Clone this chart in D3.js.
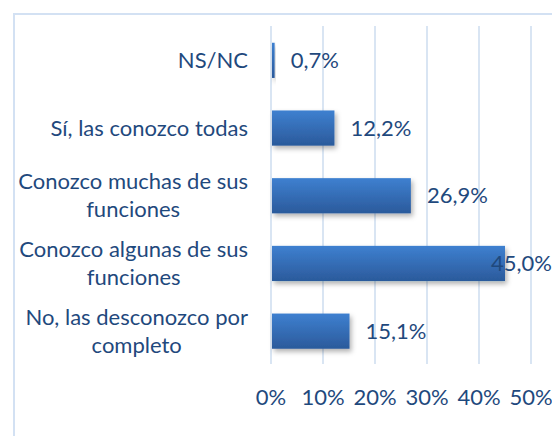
<html>
<head>
<meta charset="utf-8">
<script src="https://d3js.org/d3.v7.min.js"></script>
<style>
body { margin: 0; background: #fff; }
text { font-family: Lato, "Open Sans", sans-serif; fill: #1F497D; }
</style>
</head>
<body>
<script>
// categories, top to bottom (each entry = lines of the wrapped label)
var categories = [
	["NS/NC"],
	["Sí, las conozco todas"],
	["Conozco muchas de sus", "funciones"],
	["Conozco algunas de sus", "funciones"],
	["No, las desconozco por", "completo"]
];
var values = [0.7, 12.2, 26.9, 45.0, 15.1];
var tickValues = [0, 10, 20, 30, 40, 50];

var W = 552, H = 436;
var fontSize = 22;

var svg = d3.select("body").append("svg")
	.attr("width", W)
	.attr("height", H);

var defs = svg.append("defs");
var grad = defs.append("linearGradient")
	.attr("id", "barGrad")
	.attr("x1", 0).attr("y1", 0).attr("x2", 0).attr("y2", 1);
grad.append("stop").attr("offset", "0%").attr("stop-color", "#3e80d0");
grad.append("stop").attr("offset", "100%").attr("stop-color", "#2b5a9b");

var shadow = defs.append("filter").attr("id", "shadow")
	.attr("x", "-10%").attr("y", "-20%").attr("width", "130%").attr("height", "160%");
shadow.append("feDropShadow")
	.attr("dx", 2).attr("dy", 3).attr("stdDeviation", 2.5)
	.attr("flood-color", "#000").attr("flood-opacity", 0.3);

//chart border
svg.append("rect")
	.attr("x", 14).attr("y", 14)
	.attr("width", W + 20).attr("height", H + 20)
	.attr("fill", "none")
	.attr("stroke", "#d3e1f3")
	.attr("stroke-width", 2);

//scales
var x = d3.scaleLinear().domain([0, 50]).range([271, 531]);
var y = d3.scaleBand()
	.domain(d3.range(categories.length))
	.range([26.5, 365])
	.paddingInner(0.48)
	.paddingOuter(0.24);

//gridlines
svg.append("g").selectAll("line")
	.data(tickValues)
	.enter().append("line")
	.attr("x1", function(d) { return x(d) })
	.attr("x2", function(d) { return x(d) })
	.attr("y1", 26)
	.attr("y2", 364)
	.attr("stroke", "#d9e5f3")
	.attr("stroke-width", 2);

//bars
svg.append("g").selectAll("rect")
	.data(values)
	.enter().append("rect")
	.attr("x", x(0) + 1)
	.attr("y", function(d, i) { return y(i) })
	.attr("width", function(d) { return x(d) - x(0) - 1 })
	.attr("height", y.bandwidth())
	.attr("fill", "url(#barGrad)")
	.attr("filter", "url(#shadow)");

//value labels
svg.append("g").selectAll("text")
	.data(values)
	.enter().append("text")
	.attr("y", function(d, i) { return y(i) + y.bandwidth() / 2 })
	.attr("dy", "0.35em")
	.attr("font-size", fontSize)
	.text(function(d) { return d.toFixed(1).replace(".", ",") + "%" })
	.attr("x", function(d) {
		var w = this.getComputedTextLength();
		return Math.min(x(d) + 16, W - w);
	});

//category labels (wrapped ones centred on the longest line)
var lineH = 28;
var catG = svg.append("g").selectAll("g")
	.data(categories)
	.enter().append("g");
catG.each(function(lines, i) {
	var g = d3.select(this);
	var cy = y(i) + y.bandwidth() / 2;
	var t = g.selectAll("text").data(lines).enter().append("text")
		.attr("font-size", fontSize)
		.attr("dy", "0.35em")
		.attr("y", function(d, j) { return cy + (j - (lines.length - 1) / 2) * lineH })
		.text(function(d) { return d });
	var maxW = d3.max(t.nodes(), function(n) { return n.getComputedTextLength() });
	t.attr("text-anchor", "middle").attr("x", 248 - maxW / 2);
});

//x axis tick labels
svg.append("g").selectAll("text")
	.data(tickValues)
	.enter().append("text")
	.attr("x", function(d) { return x(d) })
	.attr("y", 397)
	.attr("dy", "0.35em")
	.attr("text-anchor", "middle")
	.attr("font-size", fontSize)
	.text(function(d) { return d + "%" });
</script>
</body>
</html>
